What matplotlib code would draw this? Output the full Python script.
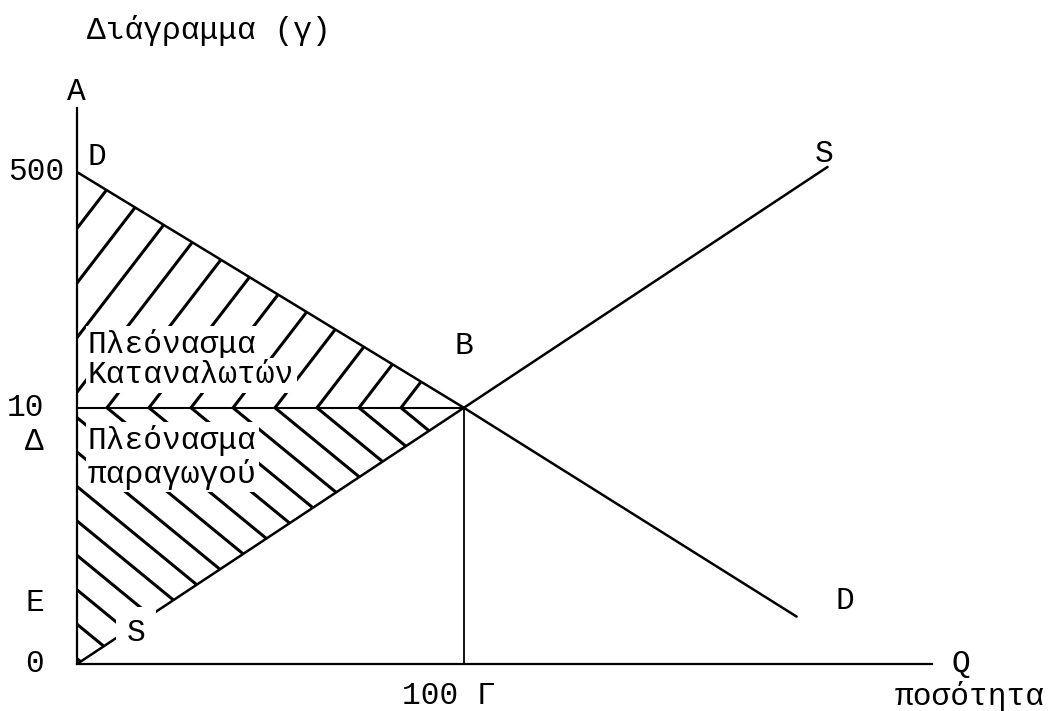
import matplotlib
matplotlib.use("Agg")
import matplotlib.pyplot as plt
from matplotlib.patches import Polygon
import numpy as np

# ---------------- data (schematic diagram units) ----------------
q_eq = 100          # equilibrium quantity (Γ)
p_eq = 10           # equilibrium price level (Δ)
demand_q = [0, 100, 186]
demand_p = [19.2, 10, 1.85]
supply_q = [0, 100, 194]
supply_p = [0, 10, 19.4]
q_max = 221
p_max = 21.7
price_tick_pos = [19.2, 10, 0]
price_tick_labels = ["500", "10", "0"]
e_pos = 2.4

# ---------------- figure / style ----------------
W, H, DPI = 1050, 711, 100
plt.rcParams['font.family'] = ['Liberation Mono', 'DejaVu Sans Mono']
FS = 22.5
fig = plt.figure(figsize=(W / DPI, H / DPI), dpi=DPI)
fig.patch.set_facecolor('white')


def fx(x):
    return x / W


def fy(y):
    return 1 - y / H


ax_l, ax_r, ax_t, ax_b = 77, 932, 108, 664
ax = fig.add_axes([fx(ax_l), fy(ax_b), (ax_r - ax_l) / W, (ax_b - ax_t) / H])
ax.set_xlim(0, q_max)
ax.set_ylim(0, p_max)
for s in ['top', 'right']:
    ax.spines[s].set_visible(False)
for s in ['left', 'bottom']:
    ax.spines[s].set_linewidth(1.6)
ax.set_xticks([])
ax.set_yticks([])
ax.patch.set_alpha(0)

LW = 1.8
# demand and supply
ax.plot(demand_q, demand_p, color='black', lw=LW, zorder=3, solid_capstyle='round')
ax.plot(supply_q, supply_p, color='black', lw=LW, zorder=3, solid_capstyle='round')
# equilibrium guide lines
ax.plot([0, q_eq], [p_eq, p_eq], color='black', lw=1.5, zorder=3)
ax.plot([q_eq, q_eq], [0, p_eq], color='black', lw=1.3, zorder=3)

# ---------------- hand-style hatching ----------------
px_per_q = (ax_r - ax_l) / q_max
px_per_p = (ax_b - ax_t) / p_max
spacing = 42 / px_per_q
start = (401 - ax_l) / px_per_q
offsets = [start - spacing * k for k in range(22)]


def hatch(poly, slope_px):
    patch = Polygon(poly, closed=True, facecolor='none', edgecolor='none')
    ax.add_patch(patch)
    slope = slope_px * px_per_q / px_per_p
    qs = np.array([-300.0, q_max])
    for x0 in offsets:
        ln, = ax.plot(qs, p_eq + slope * (qs - x0), color='black', lw=2.2,
                      zorder=2, solid_capstyle='round')
        ln.set_clip_path(patch)


consumer = [(demand_q[0], demand_p[0]), (q_eq, p_eq), (0, p_eq)]
producer = [(0, p_eq), (q_eq, p_eq), (supply_q[0], supply_p[0])]
hatch(consumer, 1.3)
hatch(producer, -0.82)

# ---------------- texts ----------------
box = dict(boxstyle='square,pad=0.08', facecolor='white', edgecolor='none')
fig.text(fx(87), fy(31), "Διάγραμμα (γ)", fontsize=FS, va='center', ha='left')
fig.text(fx(76), fy(92), "A", fontsize=FS, va='center', ha='center')
fig.text(fx(97), fy(157), "D", fontsize=FS, va='center', ha='center')

ax.text(fx(8), price_tick_pos[0], price_tick_labels[0], fontsize=FS, va='center',
        ha='left', transform=matplotlib.transforms.blended_transform_factory(fig.transFigure, ax.transData))
bt = matplotlib.transforms.blended_transform_factory(fig.transFigure, ax.transData)
ax.text(fx(44), price_tick_pos[1], price_tick_labels[1], fontsize=FS, va='center', ha='right', transform=bt)
ax.text(fx(44), price_tick_pos[2], price_tick_labels[2], fontsize=FS, va='center', ha='right', transform=bt)
fig.text(fx(44), fy(442), "Δ", fontsize=FS, va='center', ha='right')
ax.text(fx(44), e_pos, "E", fontsize=FS, va='center', ha='right', transform=bt)

ax.text(q_eq, p_eq, "B", fontsize=FS, va='center', ha='center',
        transform=ax.transData + matplotlib.transforms.ScaledTranslation(0, 62 / DPI, fig.dpi_scale_trans))
fig.text(fx(824), fy(154), "S", fontsize=FS, va='center', ha='center')
fig.text(fx(845), fy(601), "D", fontsize=FS, va='center', ha='center')
fig.text(fx(961), fy(664), "Q", fontsize=FS, va='center', ha='center')
fig.text(fx(895), fy(697), "ποσότητα", fontsize=FS, va='center', ha='left')
fig.text(fx(402), fy(696), "100 Γ", fontsize=FS, va='center', ha='left')

fig.text(fx(136), fy(633), "S", fontsize=FS, va='center', ha='center', zorder=5,
         bbox=dict(boxstyle='square,pad=0.35', facecolor='white', edgecolor='none'))

for txt, y in [("Πλεόνασμα", 344), ("Καταναλωτών", 375), ("Πλεόνασμα", 440), ("παραγωγού", 474)]:
    fig.text(fx(88), fy(y), txt, fontsize=FS, va='center', ha='left', zorder=5, bbox=box)

fig.savefig("out.png", dpi=DPI, facecolor='white')
